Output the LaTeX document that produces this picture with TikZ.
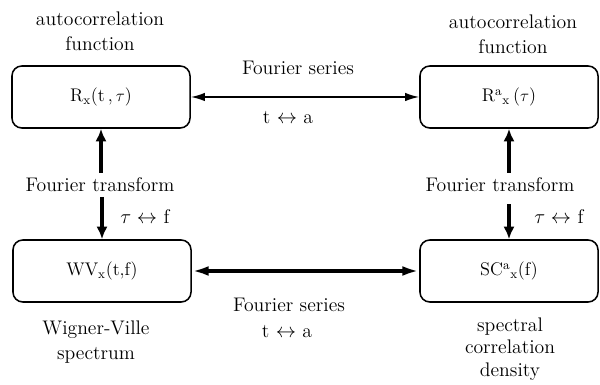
\documentclass[tikz,border=0pt]{standalone}
\usepackage{fontspec}
\usepackage{amsmath}
\usepackage{tikz}
\usetikzlibrary{arrows.meta,positioning,calc}

\tikzset{
  spbox/.style={draw, line width=1.1pt, rounded corners=7pt, minimum width=4.45cm, minimum height=1.55cm, font=\fontsize{13}{15}\selectfont},
  lbl/.style={font=\fontsize{14}{17.5}\selectfont, align=center},
  thinarr/.style={{Latex[length=10pt,width=6pt]}-{Latex[length=10pt,width=6pt]}, line width=1.1pt},
  fatarr/.style={{Latex[length=12pt,width=7pt]}-{Latex[length=12pt,width=7pt]}, line width=2.4pt},
  vertarr/.style={-{Latex[length=9pt,width=8pt]}, line width=3pt}
}

\begin{document}
\begin{tikzpicture}[x=0.025cm, y=-0.025cm]
  \useasboundingbox (0,0) rectangle (600,385);

  % Draw the four boxes
  \node[spbox] (rxt) at (101,97) {R$_{\mathrm{x}}$(t\,,\,$\tau$)};
  \node[spbox] (rax) at (509,97) {R$^{\mathrm{a}}{}_{\mathrm{x}}$\,($\tau$)};
  \node[spbox] (wv) at (102,271) {WV$_{\mathrm{x}}$(t,f)};
  \node[spbox] (sc) at (509,271) {SC$^{\mathrm{a}}{}_{\mathrm{x}}$(f)};

  % Names of the boxes
  \node[lbl] at (100,31) {autocorrelation\\function};
  \node[lbl] at (513,34) {autocorrelation\\function};
  \node[lbl] at (96,342) {Wigner-Ville\\spectrum};
  \node[lbl, font=\fontsize{14}{16}\selectfont] at (510,349) {spectral\\correlation\\density};

  % Fourier series arrows and labels
  \draw[thinarr] (rxt.east) -- (rax.west);
  \node[lbl] (fsT) at (298,68) {Fourier series};
  \node[lbl] (taT) at (288,118) {t $\leftrightarrow$ a};
  \draw[fatarr] (wv.east) -- (sc.west);
  \node[lbl] (fsB) at (289,305) {Fourier series};
  \node[lbl] (taB) at (287,332) {t $\leftrightarrow$ a};

  % Fourier transform arrows and labels
  \node[lbl] (ftL) at (100,185) {Fourier transform};
  \node[lbl] (ftR) at (500,185) {Fourier transform};
  \draw[vertarr] (ftL.north -| rxt.south) -- (rxt.south);
  \draw[vertarr] (ftL.south -| wv.north) -- (wv.north);
  \draw[vertarr] (ftR.north -| rax.south) -- (rax.south);
  \draw[vertarr, shorten <=5pt] (ftR.south -| sc.north) -- (sc.north);
  \node[lbl] (tfL) at (145,217) {$\tau\leftrightarrow$ f};
  \node[lbl] (tfR) at (559,217) {$\tau\leftrightarrow$ f};
\end{tikzpicture}
\end{document}
